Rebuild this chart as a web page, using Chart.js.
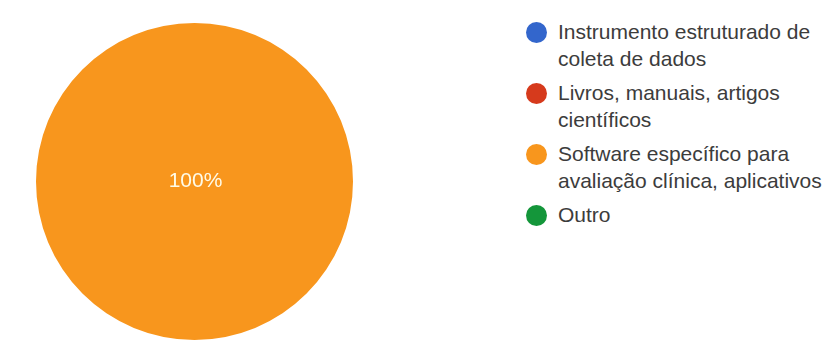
<!DOCTYPE html>
<html>
<head>
<meta charset="utf-8">
<script src="https://cdn.jsdelivr.net/npm/chart.js@4"></script>
<style>
  html, body { margin: 0; padding: 0; background: #ffffff; }
  body { width: 831px; height: 345px; position: relative; overflow: hidden; }
  #pieWrap { position: absolute; left: 36px; top: 23px; width: 317px; height: 317px; }
  #legend { position: absolute; left: 526px; top: 18px; font-family: "Liberation Sans", Arial, sans-serif;
            font-size: 21px; line-height: 27px; color: #3c3c3c; }
  .item { position: relative; padding-left: 32px; width: 272px; margin-bottom: 7px; }
  .dot { position: absolute; left: 0; top: 4px; width: 21px; height: 21px; border-radius: 50%; }
</style>
</head>
<body>
<div id="pieWrap"><canvas id="c"></canvas></div>
<div id="legend"></div>
<script>
const categories = [
  "Instrumento estruturado de coleta de dados",
  "Livros, manuais, artigos científicos",
  "Software específico para avaliação clínica, aplicativos",
  "Outro"
];
const values = [0, 0, 1, 0];
const colors = ["#3366cc", "#d63a1c", "#f8961d", "#14963a"];

// HTML legend built from the same arrays
const legend = document.getElementById('legend');
categories.forEach((name, i) => {
  const item = document.createElement('div');
  item.className = 'item';
  const dot = document.createElement('span');
  dot.className = 'dot';
  dot.style.background = colors[i];
  item.appendChild(dot);
  item.appendChild(document.createTextNode(name));
  legend.appendChild(item);
});

const pctLabels = {
  id: 'pctLabels',
  afterDatasetsDraw(chart) {
    const ctx = chart.ctx;
    const meta = chart.getDatasetMeta(0);
    const data = chart.data.datasets[0].data;
    const total = data.reduce((a, b) => a + b, 0);
    meta.data.forEach((arc, i) => {
      const v = data[i];
      if (!v) return;
      const pct = Math.round(v / total * 100);
      let x, y;
      if (pct === 100) { x = arc.x; y = arc.y; }
      else { const p = arc.tooltipPosition(); x = p.x; y = p.y; }
      ctx.save();
      ctx.font = '21px "Liberation Sans", Arial, sans-serif';
      ctx.fillStyle = '#fffbe8';
      ctx.textAlign = 'center';
      ctx.textBaseline = 'middle';
      ctx.fillText(pct + '%', x + 1, y);
      ctx.restore();
    });
  }
};

new Chart(document.getElementById('c'), {
  type: 'pie',
  data: {
    labels: categories,
    datasets: [{ data: values, backgroundColor: colors, borderWidth: 0 }]
  },
  options: {
    responsive: true,
    maintainAspectRatio: false,
    animation: false,
    layout: { padding: 0 },
    plugins: { legend: { display: false }, tooltip: { enabled: false } }
  },
  plugins: [pctLabels]
});
</script>
</body>
</html>
